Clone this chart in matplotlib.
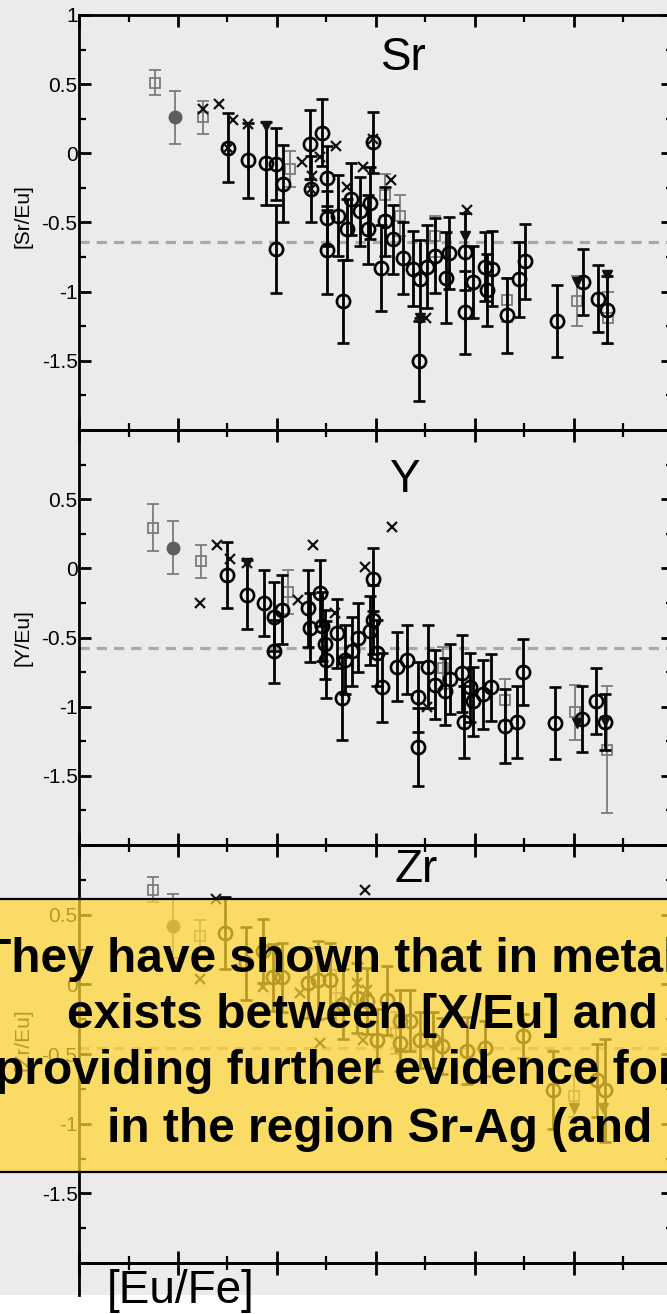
import matplotlib
matplotlib.use("Agg")
import matplotlib.pyplot as plt
from matplotlib.patches import Rectangle
from matplotlib.ticker import MultipleLocator, FixedLocator, FixedFormatter

plt.rcParams["font.family"] = ["Liberation Sans", "DejaVu Sans"]
plt.rcParams["axes.unicode_minus"] = False

# ---------------------------------------------------------------- data
# [X/Eu] versus [Eu/Fe]; (x, y, error) for stars with error bars
sr_open = [(-0.247, 0.04, 0.25), (-0.146, -0.05, 0.27), (-0.056, -0.07, 0.30),
           (-0.005, -0.08, 0.26), (-0.005, -0.69, 0.32), (0.030, -0.22, 0.28),
           (0.167, 0.065, 0.25), (0.227, 0.15, 0.24), (0.172, -0.26, 0.24),
           (0.253, -0.18, 0.23), (0.253, -0.47, 0.20), (0.253, -0.70, 0.32),
           (0.308, -0.45, 0.29), (0.333, -1.07, 0.30), (0.354, -0.55, 0.22),
           (0.374, -0.33, 0.26), (0.419, -0.42, 0.25), (0.460, -0.55, 0.25),
           (0.485, 0.08, 0.22), (0.470, -0.36, 0.26), (0.525, -0.83, 0.31),
           (0.545, -0.49, 0.25), (0.586, -0.62, 0.25), (0.636, -0.76, 0.26),
           (0.687, -0.835, 0.27), (0.722, -0.91, 0.28), (0.758, -0.82, 0.30),
           (0.717, -1.50, 0.29), (0.798, -0.74, 0.27), (0.854, -0.90, 0.33),
           (0.869, -0.72, 0.26), (0.949, -0.71, 0.28), (0.949, -1.15, 0.30),
           (0.990, -0.93, 0.26), (1.051, -0.82, 0.25), (1.061, -0.99, 0.26),
           (1.086, -0.835, 0.27), (1.162, -1.17, 0.27), (1.222, -0.91, 0.27),
           (1.253, -0.78, 0.27), (1.414, -1.21, 0.26), (1.545, -0.93, 0.24),
           (1.621, -1.05, 0.24), (1.667, -1.13, 0.24)]
sr_square = [(-0.616, 0.51, 0.09), (-0.374, 0.26, 0.12), (0.066, -0.115, 0.13),
             (0.545, -0.30, 0.15), (0.620, -0.45, 0.15), (0.800, -0.60, 0.15),
             (1.162, -1.06, 0.16), (1.515, -1.07, 0.18), (1.672, -1.19, 0.19)]
sr_filled = [(-0.515, 0.26, 0.19)]
sr_cross = [(-0.374, 0.32), (-0.293, 0.36), (-0.222, 0.24), (-0.146, 0.21),
            (-0.247, 0.04), (0.126, -0.06), (0.298, 0.05), (0.217, -0.03),
            (0.177, -0.165), (0.172, -0.26), (0.354, -0.245), (0.434, -0.10),
            (0.576, -0.19), (0.485, 0.10), (0.960, -0.41), (0.753, -1.19)]
sr_tri = [(-0.056, 0.20), (0.722, -1.19), (0.949, -0.60), (1.515, -0.93),
          (1.667, -0.88)]
sr_mean = -0.64

y_open = [(-0.253, -0.05, 0.24), (-0.152, -0.19, 0.25), (-0.066, -0.25, 0.24),
          (-0.015, -0.35, 0.25), (0.025, -0.30, 0.25), (-0.015, -0.60, 0.23),
          (0.157, -0.29, 0.28), (0.217, -0.18, 0.24), (0.167, -0.43, 0.25),
          (0.227, -0.42, 0.25), (0.242, -0.55, 0.25), (0.247, -0.66, 0.28),
          (0.303, -0.47, 0.25), (0.343, -0.66, 0.25), (0.328, -0.94, 0.30),
          (0.379, -0.60, 0.25), (0.410, -0.50, 0.25), (0.485, -0.08, 0.23),
          (0.485, -0.37, 0.25), (0.470, -0.45, 0.25), (0.505, -0.61, 0.24),
          (0.530, -0.86, 0.25), (0.606, -0.71, 0.25), (0.657, -0.66, 0.25),
          (0.712, -1.29, 0.28), (0.712, -0.93, 0.25), (0.762, -0.71, 0.30),
          (0.798, -0.84, 0.25), (0.848, -0.89, 0.24), (0.874, -0.80, 0.25),
          (0.934, -0.76, 0.28), (0.944, -1.11, 0.26), (0.975, -0.86, 0.25),
          (0.990, -0.96, 0.25), (1.040, -0.91, 0.25), (1.081, -0.86, 0.24),
          (1.152, -1.14, 0.27), (1.212, -1.11, 0.26), (1.242, -0.75, 0.24),
          (1.404, -1.12, 0.26), (1.540, -1.09, 0.24), (1.611, -0.96, 0.24),
          (1.657, -1.11, 0.20)]
y_square = [(-0.626, 0.295, 0.17), (-0.384, 0.05, 0.12), (0.056, -0.17, 0.16),
            (0.838, -0.72, 0.15), (1.152, -0.95, 0.15), (1.505, -1.04, 0.20),
            (1.667, -1.31, 0.46)]
y_filled = [(-0.525, 0.15, 0.19)]
y_cross = [(-0.303, 0.17), (-0.237, 0.065), (-0.389, -0.25), (-0.152, 0.04),
           (0.182, 0.17), (0.106, -0.23), (0.581, 0.30), (0.444, 0.01),
           (0.293, -0.32), (0.758, -1.00)]
y_tri = [(-0.152, 0.04), (1.515, -1.12), (1.657, -1.10)]
y_mean = -0.575

zr_open = [(-0.263, 0.37, 0.26), (-0.157, 0.15, 0.26), (-0.071, 0.24, 0.23),
           (-0.020, 0.05, 0.24), (0.025, 0.05, 0.25), (0.157, 0.01, 0.25),
           (0.207, 0.03, 0.28), (0.268, 0.03, 0.27), (0.333, -0.14, 0.25),
           (0.404, -0.10, 0.25), (0.455, -0.12, 0.24), (0.505, -0.40, 0.22),
           (0.556, -0.115, 0.25), (0.621, -0.26, 0.22), (0.672, -0.26, 0.22),
           (0.722, -0.40, 0.20), (0.621, -0.42, 0.20), (0.788, -0.40, 0.20),
           (0.833, -0.44, 0.20), (0.960, -0.475, 0.24), (1.051, -0.46, 0.20),
           (1.242, -0.37, 0.16), (1.394, -0.76, 0.28), (1.616, -0.69, 0.26),
           (1.657, -0.76, 0.37)]
zr_square = [(-0.626, 0.68, 0.09), (-0.389, 0.35, 0.11), (0.300, -0.10, 0.20),
             (0.600, -0.35, 0.15), (1.500, -0.80, 0.15)]
zr_filled = [(-0.525, 0.42, 0.23)]
zr_cross = [(-0.308, 0.61), (0.444, 0.68), (-0.389, 0.04), (0.116, -0.06),
            (-0.071, -0.02), (0.217, -0.42), (0.404, 0.01), (0.434, -0.40),
            (0.455, -0.04)]
zr_tri = [(1.500, -0.885), (1.646, -0.885)]
zr_mean = -0.46

panel_names = ["Sr", "Y", "Zr"]
ylabels = ["[Sr/Eu]", "[Y/Eu]", "[Zr/Eu]"]
ytick_values = [-2, -1.5, -1, -0.5, 0, 0.5, 1]
box_lines = ["They have shown that in metal",
             "exists between [X/Eu] and",
             "providing further evidence for",
             "in the region Sr-Ag (and"]
xlabel = "[Eu/Fe]"

# ---------------------------------------------------------------- layout
W, H = 667, 1314
fig = plt.figure(figsize=(W / 100, H / 100), dpi=100, facecolor="white")

PAGE = "#ebebeb"
GREY = "#7c7c7c"


def frac_box(x0, top, x1, bottom):
    return [x0 / W, 1 - bottom / H, (x1 - x0) / W, (bottom - top) / H]


bg = fig.add_axes([0, 0, 1, 1], zorder=0)
bg.set_xlim(0, W)
bg.set_ylim(H, 0)
bg.axis("off")
bg.add_patch(Rectangle((0, 0), W, 1295, facecolor=PAGE, edgecolor="none"))

AX_L, AX_R = 79, 673
panel_px = [(15, 430), (430, 845), (845, 1263)]
label_y = [0.516, 0.501, 0.534]
title_px = [(381, 70), (389, 492), (394, 882)]
panels = [
    (sr_open, sr_square, sr_filled, sr_cross, sr_tri, sr_mean),
    (y_open, y_square, y_filled, y_cross, y_tri, y_mean),
    (zr_open, zr_square, zr_filled, zr_cross, zr_tri, zr_mean),
]


def style_axes(ax):
    ax.set_xlim(-1, 2)
    ax.set_ylim(-2, 1)
    ax.set_facecolor("none")
    for s in ax.spines.values():
        s.set_linewidth(2.0)
    ax.xaxis.set_major_locator(MultipleLocator(0.5))
    ax.xaxis.set_minor_locator(MultipleLocator(0.25))
    ax.yaxis.set_minor_locator(MultipleLocator(0.25))
    ax.tick_params(which="both", direction="in", top=True, right=True,
                   labelbottom=False)
    ax.tick_params(which="major", length=8.6, width=2.0)
    ax.tick_params(which="minor", length=5, width=1.6)
    ax.tick_params(axis="y", labelsize=15, pad=1)


for i, (ax_rows, (top, bottom)) in enumerate(zip(panels, panel_px)):
    opn, sq, fil, crs, tri, mean = ax_rows
    ax = fig.add_axes(frac_box(AX_L, top, AX_R, bottom), zorder=1)
    style_axes(ax)

    labels = []
    for v in ytick_values:
        if v == -2 or (v == 1 and i > 0):
            labels.append("")
        else:
            labels.append("%g" % v)
    ax.yaxis.set_major_locator(FixedLocator(ytick_values))
    ax.yaxis.set_major_formatter(FixedFormatter(labels))

    ax.axhline(mean, color="#a9a9a9", lw=2.3, ls=(0, (3.2, 2.2)), zorder=1)

    xs, ys, es = zip(*sq)
    ax.errorbar(xs, ys, yerr=es, fmt="s", ms=6.5, mfc="none", mec=GREY,
                mew=1.3, ecolor=GREY, elinewidth=1.3, capsize=4, capthick=1.3,
                zorder=2)
    xs, ys, es = zip(*fil)
    ax.errorbar(xs, ys, yerr=es, fmt="o", ms=9, mfc="#5e5e5e", mec="#5e5e5e",
                ecolor=GREY, elinewidth=1.3, capsize=4, capthick=1.3, zorder=2)
    xs, ys, es = zip(*opn)
    ax.errorbar(xs, ys, yerr=es, fmt="o", ms=9.5, mfc="none", mec="black",
                mew=1.9, ecolor="black", elinewidth=2.0, capsize=4.3,
                capthick=2.0, zorder=3)
    xs, ys = zip(*crs)
    ax.plot(xs, ys, "x", ms=6.5, mew=1.6, color="#111111", zorder=4)
    xs, ys = zip(*tri)
    ax.plot(xs, ys, "v", ms=6.5, color="#111111", zorder=4)

    ax.set_ylabel(ylabels[i], fontsize=15, va="center")
    ax.yaxis.set_label_coords(-0.094, label_y[i])

# stub of the next panel below Zr: left spine and inward top ticks
stub = fig.add_axes(frac_box(AX_L, 1263, AX_R, 1295), zorder=1)
stub.set_xlim(-1, 2)
stub.set_facecolor("none")
stub.spines["bottom"].set_visible(False)
stub.spines["right"].set_visible(False)
for s in ("left", "top"):
    stub.spines[s].set_linewidth(2.0)
stub.set_yticks([])
stub.xaxis.set_major_locator(MultipleLocator(0.5))
stub.xaxis.set_minor_locator(MultipleLocator(0.25))
stub.tick_params(axis="x", which="both", direction="in", top=True,
                 bottom=False, labelbottom=False)
stub.tick_params(axis="x", which="major", length=8.6, width=2.0)
stub.tick_params(axis="x", which="minor", length=5, width=1.6)

# ---------------------------------------------------------------- overlay
ov = fig.add_axes([0, 0, 1, 1], zorder=10)
ov.set_xlim(0, W)
ov.set_ylim(H, 0)
ov.axis("off")
ov.patch.set_alpha(0)

for name, (tx, ty) in zip(panel_names, title_px):
    ov.text(tx, ty, name, fontsize=33, ha="left", va="baseline", color="black")

ov.add_patch(Rectangle((-5, 899), W + 10, 273, facecolor="#ffd633",
                       alpha=0.72, edgecolor="none"))
ov.plot([-5, W + 5], [899, 899], color="black", lw=1.6)
ov.plot([-5, W + 5], [1172, 1172], color="black", lw=1.6)

line_x = [-18, 67, -5, 107]
line_base = [972, 1028, 1084, 1142]
for txt, lx, lb in zip(box_lines, line_x, line_base):
    ov.text(lx, lb, txt, fontsize=34.5, fontweight="bold", ha="left",
            va="baseline", color="black")

ov.text(107, 1303, xlabel, fontsize=33, ha="left", va="baseline",
        color="black")

fig.savefig("out.png", dpi=100, facecolor="white")
